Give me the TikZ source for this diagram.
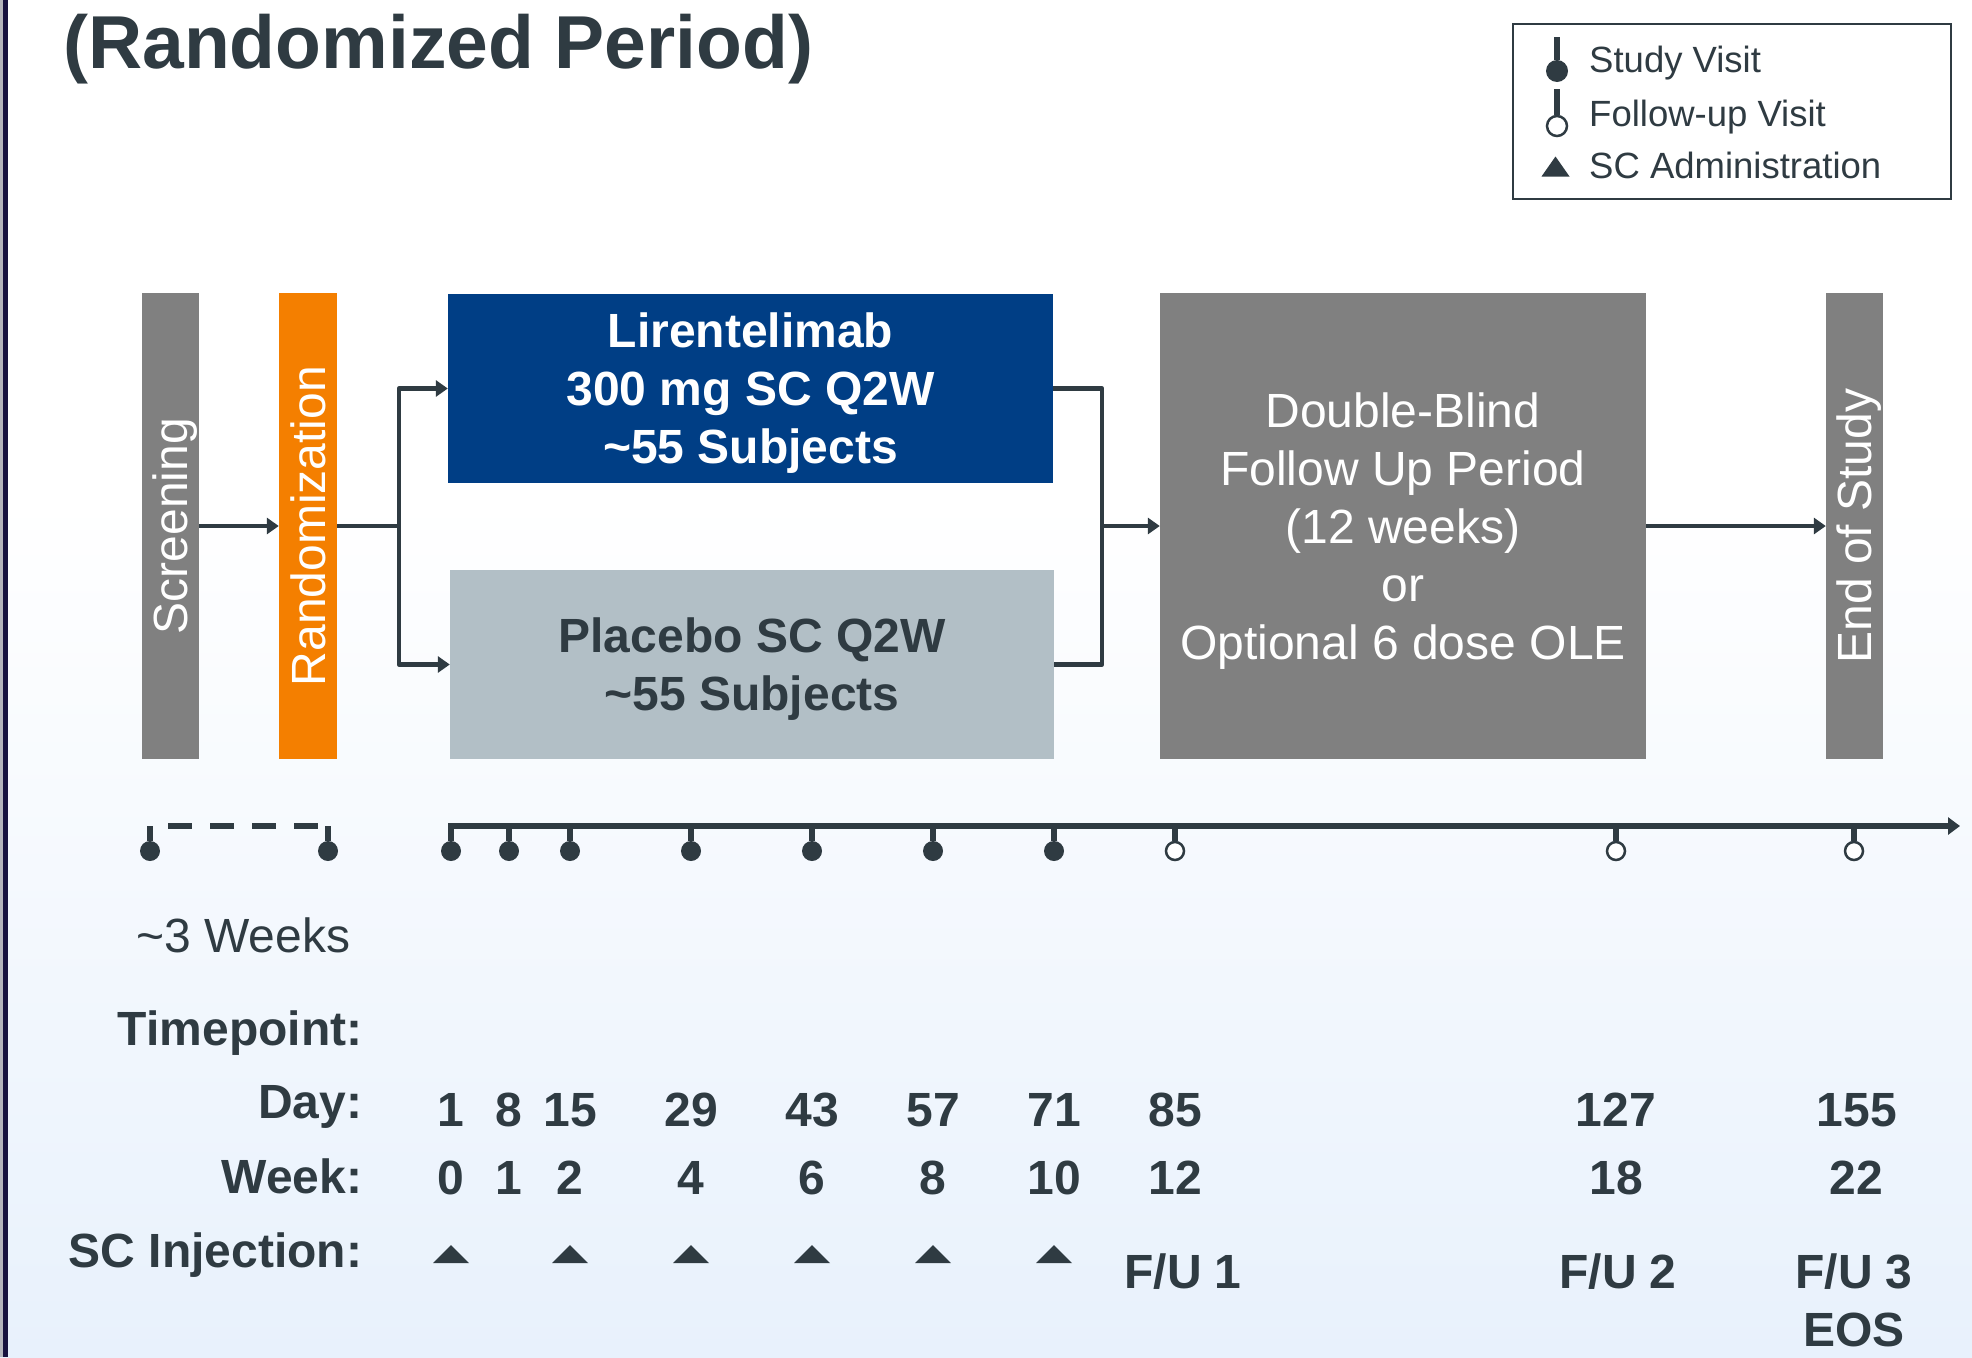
\documentclass[tikz,border=0pt]{standalone}
\usepackage{fontspec}
\setmainfont{Liberation Sans}
\usetikzlibrary{arrows.meta}
\definecolor{ink}{HTML}{2F3B42}
\definecolor{boxgray}{HTML}{808080}
\definecolor{randorange}{HTML}{F47F00}
\definecolor{lirnavy}{HTML}{003E85}
\definecolor{plagray}{HTML}{B2BFC6}
\definecolor{bgblue}{HTML}{E8F1FC}
\definecolor{stripnavy}{HTML}{17123F}
\definecolor{stripgray}{HTML}{B4B4BC}
\tikzset{
  boxbase/.style={rectangle, inner sep=0pt, draw=none, align=center, text depth=0pt},
  vbox/.style={boxbase, rotate=90, minimum width=466pt, minimum height=57pt, text=white,
    font=\fontsize{48}{58}\selectfont, text height=34.5pt, text depth=0pt},
  conn/.style={draw=ink, line width=4.5pt, line join=round},
  arr/.style={conn, -{Triangle[length=12pt,width=16pt]}},
  stem/.style={draw=ink, line width=5.5pt},
  visit/.style={circle, fill=ink, minimum size=20pt, inner sep=0pt},
  fuvisit/.style={circle, draw=ink, line width=2.5pt, fill=white, minimum size=18pt, inner sep=0pt},
  lbl/.style={inner sep=0pt, text=ink, font=\fontsize{48}{58}\selectfont},
  blbl/.style={inner sep=0pt, text=ink, font=\fontsize{48}{58}\selectfont\bfseries},
  legtxt/.style={inner sep=0pt, text=ink, font=\fontsize{36.5}{44}\selectfont, anchor=base west},
}
\begin{document}
\begin{tikzpicture}[x=1pt,y=-1pt]
\useasboundingbox (0,0) rectangle (1972,1357);
% background
\fill[white] (0,0) rectangle (1972,500);
\shade[top color=white, bottom color=bgblue] (0,499) rectangle (1972,1357);
\fill[stripgray] (0,0) rectangle (2.7,1357);
\fill[stripnavy] (2.7,0) rectangle (8.3,1357);

% title
\node[anchor=base west, inner sep=0pt, text=ink, font=\fontsize{75}{90}\selectfont\bfseries] (title) at (63,68.5) {(Randomized Period)};

% legend
\node[draw=ink, line width=2.5pt, minimum width=438pt, minimum height=175pt, inner sep=0pt] (legend) at (1732,111.5) {};
\coordinate (ls1) at (1557,37);
\node[visit, minimum size=22pt] (lv1) at (1557,71) {};
\draw[stem] (ls1) -- (lv1);
\coordinate (ls2) at (1557,89);
\node[fuvisit, minimum size=20pt] (lv2) at (1557,126) {};
\draw[stem] (ls2) -- (lv2);
\fill[ink] (1541.5,176.5) -- (1569.5,176.5) -- (1555.5,156.5) -- cycle;
\node[legtxt] (lt1) at (1589,72) {Study Visit};
\node[legtxt] (lt2) at (1589,126) {Follow-up Visit};
\node[legtxt] (lt3) at (1589,178) {SC Administration};

% boxes
\node[vbox, fill=boxgray] (scr) at (170.5,526) {Screening};
\node[vbox, fill=randorange, minimum height=58pt] (rand) at (308,526) {Randomization};
\node[vbox, fill=boxgray] (eos) at (1854.5,526) {End of Study};
\node[boxbase, fill=lirnavy, minimum width=605pt, minimum height=189pt, text=white,
  font=\fontsize{48}{58}\selectfont\bfseries] (lir) at (750.5,388.5)
  {Lirentelimab\\300 mg SC Q2W\\\textasciitilde55 Subjects};
\node[boxbase, fill=plagray, minimum width=604pt, minimum height=189pt, text=ink,
  font=\fontsize{48}{58}\selectfont\bfseries] (plac) at (752,664.5)
  {Placebo SC Q2W\\\textasciitilde55 Subjects};
\node[boxbase, fill=boxgray, minimum width=486pt, minimum height=466pt, text=white,
  font=\fontsize{48}{58}\selectfont] (db) at (1403,526)
  {Double-Blind\\Follow Up Period\\(12 weeks)\\or\\Optional 6 dose OLE};

% connectors
\coordinate (split) at (399,526);
\coordinate (merge) at (1102,526);
\draw[arr] (scr) -- (rand);
\draw[conn] (rand) -- (split);
\draw[arr] (split) |- (lir.west);
\draw[arr] (split) |- (plac.west);
\draw[conn] (lir.east) -| (merge) |- (plac.east);
\draw[arr] (merge) -- (db);
\draw[arr] (db) -- (eos);

% screening timeline
\coordinate (d0) at (168,826);
\coordinate (d1) at (318,826);
\draw[ink, line width=5.5pt, dash pattern=on 24pt off 18pt] (d0) -- (d1);
\node[visit] (s1) at (150,851) {};
\node[visit] (s2) at (328,851) {};
\draw[stem] (s1) -- (s1 |- d0);
\draw[stem] (s2) -- (s2 |- d0);

% main timeline
\coordinate (tl0) at (448.3,826);
\coordinate (tlend) at (1960,826);
\draw[ink, line width=5.5pt, -{Triangle[length=12pt,width=17pt]}] (tl0) -- (tlend);
\foreach \n/\x in {v1/451, v2/509, v3/570, v4/691, v5/812, v6/933, v7/1054} {
  \node[visit] (\n) at (\x,851) {};
  \draw[stem] (\n) -- (\n |- tl0);
}
\foreach \n/\x in {f1/1175, f2/1616, f3/1854} {
  \node[fuvisit] (\n) at (\x,851) {};
  \draw[stem] (\n) -- (\n |- tl0);
}

% labels
\node[lbl, anchor=base west] (weeks) at (136,952) {\textasciitilde3 Weeks};
\node[blbl, anchor=base east] (tp) at (362.5,1045) {Timepoint:};
\node[blbl, anchor=base east] (dayl) at (362.5,1118) {Day:};
\node[blbl, anchor=base east] (weekl) at (362.5,1193) {Week:};
\node[blbl, anchor=base east] (scl) at (362.5,1267) {SC Injection:};

\foreach \x/\t [count=\i] in {451/1, 509/8, 570/15, 691/29, 812/43, 933/57, 1054/71, 1175/85, 1616/127, 1857/155}
  \node[blbl, anchor=base] (day\i) at (\x,1126) {\t};
\foreach \x/\t [count=\i] in {451/0, 509/1, 570/2, 691/4, 812/6, 933/8, 1054/10, 1175/12, 1616/18, 1856/22}
  \node[blbl, anchor=base] (wk\i) at (\x,1194) {\t};
\foreach \x in {451,570,691,812,933,1054}
  \fill[ink] (\x-18,1263) -- (\x+18,1263) -- (\x,1245) -- cycle;
\node[blbl, anchor=base] (fu1) at (1183,1288) {F/U 1};
\node[blbl, anchor=base] (fu2) at (1618,1288) {F/U 2};
\node[blbl, anchor=base] (fu3) at (1854,1288) {F/U 3};
\node[blbl, anchor=base] (eosl) at (1854,1346) {EOS};
\end{tikzpicture}
\end{document}
